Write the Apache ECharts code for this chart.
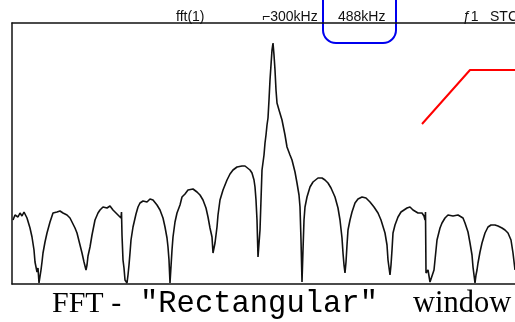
<!DOCTYPE html>
<html>
<head>
<meta charset="utf-8">
<script src="https://cdn.jsdelivr.net/npm/echarts@6/dist/echarts.min.js"></script>
<style>
  html, body { margin: 0; padding: 0; background: #fff; }
  #chart { width: 515px; height: 322px; }
</style>
</head>
<body>
<div id="chart"></div>
<script>
// FFT trace: [bin, level]
const traceBins = [1, 3, 6, 8, 10, 12, 15, 18, 20, 22, 23, 24, 25, 26, 27, 28, 29, 30, 31, 33, 35, 38, 41, 43, 45, 48, 51, 55, 58, 60, 63, 65, 68, 70, 72, 74, 75, 76, 78, 80, 83, 86, 88, 91, 95, 98, 101, 103, 106, 109, 109.5, 110, 111, 112, 113, 115, 116, 117, 118, 119, 121, 124, 126, 128, 131, 135, 138, 141, 145, 148, 151, 153, 155, 156, 157, 158, 159, 160, 161, 163, 165, 168, 170, 173, 176, 178, 181, 185, 188, 191, 194, 196, 198, 200, 201, 202, 203, 205, 206, 208, 211, 215, 218, 221, 225, 230, 233, 235, 238, 240, 242, 243, 244, 245, 246, 248, 249, 250, 252, 253, 254, 255, 256, 257, 258, 259, 260, 261, 262, 263, 264, 265, 267, 270, 273, 275, 278, 280, 283, 285, 287, 288, 289, 290, 291, 292, 293, 295, 298, 301, 303, 306, 310, 313, 316, 319, 323, 326, 328, 330, 331, 332, 333, 334, 335, 336, 338, 340, 343, 346, 350, 354, 358, 362, 366, 369, 373, 375, 376, 378, 379, 380, 381, 383, 386, 389, 392, 395, 398, 401, 403, 406, 410, 412, 413, 413.5, 414, 416, 418, 420, 422, 424, 425, 428, 430, 433, 436, 438, 441, 443, 446, 448, 451, 453, 456, 458, 460, 461, 462, 463, 464, 465, 466, 468, 470, 473, 476, 479, 483, 486, 490, 493, 496, 499, 501, 503];
const traceLevels = [64, 69, 67, 71, 68, 72, 66, 56, 47, 34, 22, 17, 12, 16, 1, 1, 14, 22, 31, 42, 51, 62, 71, 73, 72, 73, 71, 69, 66, 64, 56, 51, 39, 31, 22, 14, 19, 28, 37, 49, 64, 71, 74, 77, 76, 78, 74, 72, 69, 66, 72, 49, 24, 16, 4, 1, 9, 19, 31, 44, 57, 70, 77, 81, 83, 82, 85, 84, 79, 74, 66, 57, 46, 37, 24, 1, 1, 34, 47, 62, 71, 79, 87, 90, 94, 94, 95, 92, 89, 84, 76, 67, 56, 47, 31, 31, 41, 57, 69, 84, 94, 104, 110, 114, 117, 118, 118, 117, 114, 111, 104, 97, 84, 64, 27, 54, 84, 114, 129, 141, 149, 159, 166, 184, 204, 219, 234, 241, 229, 214, 194, 181, 174, 164, 149, 137, 129, 124, 112, 101, 89, 77, 44, 2, 34, 64, 77, 87, 97, 102, 104, 106, 106, 104, 101, 96, 87, 76, 64, 46, 31, 19, 11, 22, 39, 54, 64, 72, 81, 85, 87, 86, 82, 77, 71, 64, 51, 39, 24, 9, 19, 34, 51, 59, 67, 72, 74, 76, 77, 74, 74, 71, 71, 68, 64, 72, 11, 14, 2, 1, 14, 34, 44, 56, 61, 66, 69, 71, 68, 67, 69, 71, 66, 61, 52, 41, 29, 17, 9, 1, 9, 14, 21, 32, 41, 51, 57, 59, 59, 58, 56, 54, 51, 44, 31, 14];

// red annotation stroke, in the same bin/level units
const markerBins = [410, 458, 503];
const markerLevels = [160, 214, 214];

const headerLabels = ['fft(1)', '\u2310300kHz', '488kHz', '\u01921', 'STC'];
const captionParts = ['FFT -', '"Rectangular"', 'window'];

const chart = echarts.init(document.getElementById('chart'));

const trace = traceBins.map((b, i) => [b, traceLevels[i]]);
const marker = markerBins.map((b, i) => [b, markerLevels[i]]);

const headFont = { fontFamily: 'Liberation Sans, Arial, sans-serif', fontSize: 14, fill: '#111' };
const serif = 'Liberation Serif, Times New Roman, serif';
const frame = { show: true, lineStyle: { color: '#111', width: 1.5 } };
const hidden = { axisTick: { show: false }, axisLabel: { show: false }, splitLine: { show: false } };

chart.setOption({
  animation: false,
  grid: { left: 12, right: 0, top: 23, bottom: 38 },
  xAxis: [
    Object.assign({ type: 'value', min: 0, max: 503, position: 'bottom', axisLine: frame }, hidden),
    Object.assign({ type: 'value', min: 0, max: 503, position: 'top', axisLine: frame }, hidden)
  ],
  yAxis: Object.assign({ type: 'value', min: 0, max: 261, axisLine: frame }, hidden),
  series: [
    {
      type: 'line', data: trace, showSymbol: false,
      lineStyle: { color: '#111', width: 1.6 }
    },
    {
      type: 'line', data: marker, showSymbol: false,
      lineStyle: { color: '#ff0000', width: 2 }
    }
  ],
  graphic: [
    { type: 'text', x: 176, y: 17, style: Object.assign({ text: headerLabels[0], verticalAlign: 'middle' }, headFont) },
    { type: 'text', x: 262, y: 17, style: Object.assign({ text: headerLabels[1], verticalAlign: 'middle' }, headFont) },
    { type: 'text', x: 338, y: 17, style: Object.assign({ text: headerLabels[2], verticalAlign: 'middle' }, headFont) },
    { type: 'text', x: 463, y: 17, style: Object.assign({ text: headerLabels[3], verticalAlign: 'middle' }, headFont) },
    { type: 'text', x: 490, y: 17, style: Object.assign({ text: headerLabels[4], verticalAlign: 'middle' }, headFont) },
    {
      type: 'rect', shape: { x: 323, y: -20, width: 73, height: 63, r: 13 },
      style: { fill: 'none', stroke: '#0000ee', lineWidth: 2 }
    },
    {
      type: 'text', x: 52, y: 304,
      style: { text: captionParts[0], fontFamily: serif, fontSize: 30, fill: '#000', verticalAlign: 'middle' }
    },
    {
      type: 'text', x: 140, y: 304,
      style: { text: captionParts[1], fontFamily: 'Liberation Mono, Courier New, monospace', fontSize: 30.5, fill: '#000', verticalAlign: 'middle' }
    },
    {
      type: 'text', x: 413, y: 304,
      style: { text: captionParts[2], fontFamily: serif, fontSize: 30.5, fill: '#000', verticalAlign: 'middle' }
    }
  ]
});
</script>
</body>
</html>
